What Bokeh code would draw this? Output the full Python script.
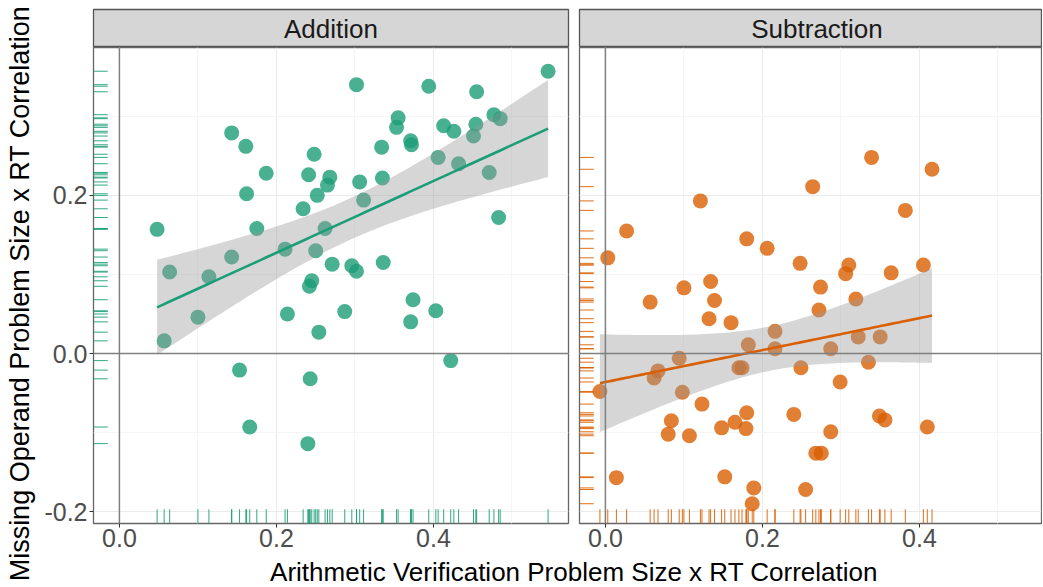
import numpy as np
from bokeh.plotting import figure
from bokeh.layouts import column, row
from bokeh.models import Range1d, FixedTicker, Span
from bokeh.core.properties import value
from bokeh.embed import file_html
from bokeh.resources import INLINE

# ---------------- data ----------------
panel_names = ["Addition", "Subtraction"]
panel_colors = ["#1b9e77", "#d95f02"]

add_x = [0.546, 0.302, 0.394, 0.455, 0.355, 0.353, 0.477, 0.485, 0.413, 0.426,
         0.454, 0.451, 0.143, 0.161, 0.248, 0.334, 0.371, 0.372, 0.406, 0.432,
         0.471, 0.187, 0.241, 0.268, 0.265, 0.306, 0.335, 0.162, 0.252, 0.311,
         0.234, 0.483, 0.048, 0.175, 0.262, 0.211, 0.250, 0.143, 0.064, 0.271,
         0.296, 0.302, 0.336, 0.114, 0.245, 0.242, 0.057, 0.100, 0.214, 0.287,
         0.374, 0.371, 0.403, 0.254, 0.422, 0.153, 0.243, 0.166, 0.240]
add_y = [0.357, 0.340, 0.338, 0.331, 0.298, 0.286, 0.302, 0.297, 0.288, 0.281,
         0.290, 0.275, 0.279, 0.262, 0.252, 0.261, 0.269, 0.264, 0.248, 0.240,
         0.229, 0.228, 0.226, 0.223, 0.213, 0.217, 0.222, 0.202, 0.200, 0.194,
         0.183, 0.172, 0.157, 0.158, 0.158, 0.132, 0.130, 0.122, 0.103, 0.113,
         0.111, 0.104, 0.115, 0.097, 0.092, 0.085, 0.016, 0.046, 0.050, 0.053,
         0.068, 0.040, 0.054, 0.027, -0.009, -0.021, -0.032, -0.093, -0.114]

sub_x = [0.339, 0.416, 0.264, 0.121, 0.382, 0.027, 0.180, 0.206, 0.003, 0.248,
         0.310, 0.306, 0.364, 0.405, 0.134, 0.100, 0.274, 0.057, 0.139, 0.319,
         0.272, 0.132, 0.160, 0.216, 0.182, 0.216, 0.287, 0.322, 0.350, 0.094,
         0.335, 0.170, 0.174, 0.249, 0.067, 0.062, -0.007, 0.098, 0.299, 0.123,
         0.180, 0.240, 0.349, 0.356, 0.084, 0.080, 0.107, 0.148, 0.165, 0.179,
         0.287, 0.410, 0.268, 0.275, 0.014, 0.152, 0.189, 0.255, 0.187]
sub_y = [0.248, 0.233, 0.211, 0.193, 0.181, 0.155, 0.145, 0.133, 0.121, 0.114,
         0.112, 0.101, 0.102, 0.112, 0.091, 0.083, 0.084, 0.065, 0.067, 0.069,
         0.055, 0.044, 0.039, 0.028, 0.011, 0.006, 0.006, 0.021, 0.021, -0.006,
         -0.011, -0.018, -0.018, -0.018, -0.022, -0.031, -0.048, -0.049, -0.036, -0.064,
         -0.075, -0.077, -0.079, -0.084, -0.085, -0.102, -0.104, -0.094, -0.087, -0.095,
         -0.099, -0.093, -0.126, -0.126, -0.157, -0.156, -0.170, -0.172, -0.190]

x_ticks = [0.0, 0.2, 0.4]
x_minor = [0.1, 0.3, 0.5]
y_ticks = [-0.2, 0.0, 0.2]
y_minor = [-0.1, 0.1, 0.3]
x_label = "Arithmetic Verification Problem Size x RT Correlation"
y_label = "Missing Operand Problem Size x RT Correlation"

# ---------------- layout constants ----------------
FONT = "Liberation Sans"
XS, XE = -0.033, 0.572          # full facet x scale
YS, YE = -0.215, 0.387
YT_W = 38
LEFT_W, RIGHT_W = 536, 468
LEFT_BL, LEFT_BR = 55, 6
RIGHT_BL, RIGHT_BR = 5, 1
STRIP_H, STRIP_BT = 47, 9
MAIN_H, MAIN_BB = 509, 33
XT_H = 30

left_frame_w = LEFT_W - LEFT_BL - LEFT_BR
right_frame_w = RIGHT_W - RIGHT_BL - RIGHT_BR
px_per_unit = left_frame_w / (XE - XS)
RIGHT_XE = XS + right_frame_w / px_per_unit   # right facet is cropped like the reference
rug_lx = 0.03 * (XE - XS)
rug_ly = 0.03 * (YE - YS)


def lm_band(xs, ys):
    x = np.asarray(xs, float)
    y = np.asarray(ys, float)
    n = len(x)
    b, a = np.polyfit(x, y, 1)
    xg = np.linspace(x.min(), x.max(), 80)
    yhat = a + b * xg
    resid = y - (a + b * x)
    s = np.sqrt(np.sum(resid ** 2) / (n - 2))
    sxx = np.sum((x - x.mean()) ** 2)
    se = s * np.sqrt(1.0 / n + (xg - x.mean()) ** 2 / sxx)
    t = 2.0
    return xg, yhat, yhat - t * se, yhat + t * se


def make_strip(name, width, bl, br, xe):
    s = figure(width=width, height=STRIP_H, x_range=Range1d(XS, xe), y_range=Range1d(0, 1),
               output_backend="svg", toolbar_location=None,
               x_axis_type=None, y_axis_type=None,
               min_border_left=bl, min_border_right=br, min_border_top=STRIP_BT,
               min_border_bottom=0)
    s.background_fill_color = "#d6d6d6"
    s.border_fill_color = "white"
    s.outline_line_color = "#555555"
    s.outline_line_width = 1.3
    s.grid.visible = False
    s.text(x=[(XS + XE) / 2], y=[0.5], text=[name], text_align="center",
           text_baseline="middle", text_font=value(FONT), text_font_size="26px",
           text_color="#1a1a1a")
    return s


def make_panel(xs, ys, color, width, bl, br, xe, show_y):
    p = figure(width=width, height=MAIN_H, x_range=Range1d(XS, xe), y_range=Range1d(YS, YE),
               output_backend="svg", toolbar_location=None,
               min_border_left=bl, min_border_right=br, min_border_top=0,
               min_border_bottom=MAIN_BB)
    p.background_fill_color = "white"
    p.border_fill_color = "white"
    p.outline_line_color = "#666666"
    p.outline_line_width = 1.3

    p.xaxis.ticker = FixedTicker(ticks=x_ticks, minor_ticks=x_minor)
    p.yaxis.ticker = FixedTicker(ticks=y_ticks, minor_ticks=y_minor)
    p.xaxis.major_label_overrides = {t: f"{t:.1f}" for t in x_ticks}
    p.yaxis.major_label_overrides = {t: f"{t:.1f}" for t in y_ticks}
    for ax in (p.xaxis, p.yaxis):
        ax.axis_line_color = None
        ax.major_tick_line_color = "#333333"
        ax.major_tick_out = 4
        ax.major_tick_in = 0
        ax.minor_tick_line_color = None
        ax.major_label_text_font = FONT
        ax.major_label_text_font_size = "25px"
        ax.major_label_text_color = "#4d4d4d"
        ax.major_label_standoff = 1
    p.yaxis.major_label_standoff = 2
    p.yaxis.visible = show_y

    p.xgrid.grid_line_color = "#ebebeb"
    p.ygrid.grid_line_color = "#ebebeb"
    p.xgrid.minor_grid_line_color = "#f5f5f5"
    p.ygrid.minor_grid_line_color = "#f5f5f5"

    p.add_layout(Span(location=0, dimension="width", line_color="#808080", line_width=1.5))
    p.add_layout(Span(location=0, dimension="height", line_color="#808080", line_width=1.5))

    n = len(xs)
    # rugs
    p.segment(x0=[XS] * n, y0=ys, x1=[XS + rug_lx] * n, y1=ys,
              line_color=color, line_alpha=0.9, line_width=1)
    p.segment(x0=xs, y0=[YS] * n, x1=xs, y1=[YS + rug_ly] * n,
              line_color=color, line_alpha=0.9, line_width=1)

    # points
    p.scatter(xs, ys, size=15, fill_color=color, fill_alpha=0.8, line_color=None)

    # linear fit with 95% band
    xg, yhat, lo, hi = lm_band(xs, ys)
    p.varea(x=xg, y1=lo, y2=hi, fill_color="#999999", fill_alpha=0.4)
    p.line(xg, yhat, line_color=color, line_width=2.6)
    return p


s1 = make_strip(panel_names[0], LEFT_W, LEFT_BL, LEFT_BR, XE)
s2 = make_strip(panel_names[1], RIGHT_W, RIGHT_BL, RIGHT_BR, RIGHT_XE)
p1 = make_panel(add_x, add_y, panel_colors[0], LEFT_W, LEFT_BL, LEFT_BR, XE, True)
p2 = make_panel(sub_x, sub_y, panel_colors[1], RIGHT_W, RIGHT_BL, RIGHT_BR, RIGHT_XE, False)

# x-axis title (centred under both full facets)
xt_w = LEFT_W + RIGHT_W
xt = figure(width=xt_w, height=XT_H, x_range=Range1d(0, xt_w),
            y_range=Range1d(0, 1), output_backend="svg", toolbar_location=None,
            x_axis_type=None, y_axis_type=None, min_border=0)
xt.outline_line_color = None
xt.grid.visible = False
xt.text(x=[LEFT_BL + (left_frame_w + 11 + left_frame_w) / 2], y=[0.5], text=[x_label],
        text_align="center", text_baseline="middle", text_font=value(FONT),
        text_font_size="26px", text_color="black")

# y-axis title
total_h = STRIP_H + MAIN_H + XT_H
yt = figure(width=YT_W, height=total_h, x_range=Range1d(0, 1), y_range=Range1d(total_h, 0),
            output_backend="svg", toolbar_location=None,
            x_axis_type=None, y_axis_type=None, min_border=0)
yt.outline_line_color = None
yt.grid.visible = False
yt.text(x=[0.5], y=[293], text=[y_label], angle=np.pi / 2,
        text_align="center", text_baseline="middle", text_font=value(FONT),
        text_font_size="27px", text_color="black")

layout = row(yt, column(row(s1, s2), row(p1, p2), xt))

open("out.html", "w").write(file_html(layout, INLINE))
